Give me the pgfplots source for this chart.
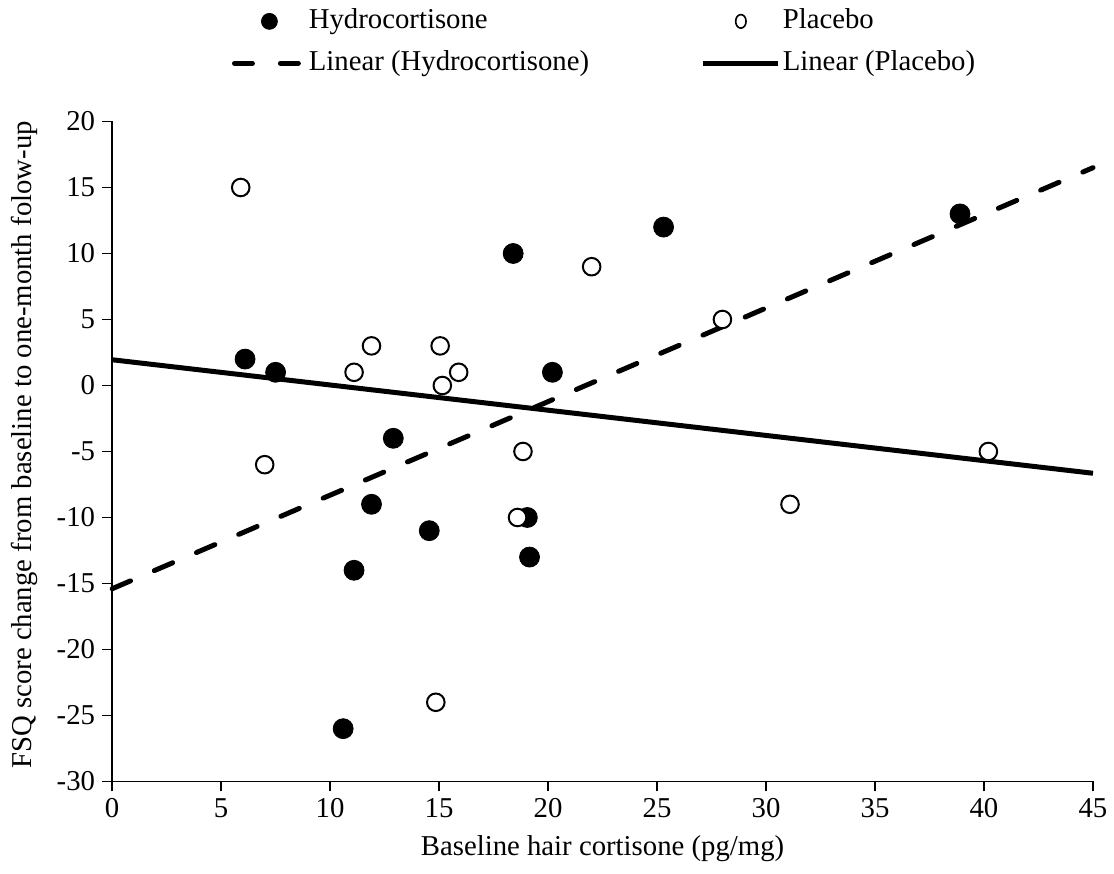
\documentclass[border=0pt]{standalone}
\usepackage{fontspec}
\setmainfont{Liberation Serif}
\usepackage{pgfplots}
\pgfplotsset{compat=1.18}

\begin{document}
\begin{tikzpicture}[font=\fontsize{14.4}{17}\selectfont]
\begin{axis}[
  scale only axis,
  width=491.2pt, height=330.5pt,
  xmin=0, xmax=45, ymin=-30, ymax=20,
  xtick={0,5,...,45}, ytick={-30,-25,...,20},
  axis x line*=bottom, axis y line*=left,
  axis line style={line width=0.75pt, black},
  tick style={line width=0.75pt, black},
  tick align=outside,
  major tick length=5pt,
  /pgf/number format/assume math mode=true,
  xlabel={Baseline hair cortisone (pg/mg)},
  ylabel={FSQ score change from baseline to one-month folow-up},
  xlabel style={at={(axis description cs:0.5,-0.102)}, anchor=center},
  ylabel style={at={(axis description cs:-0.089,0.51)}, anchor=center},
  clip=false,
  legend columns=2,
  legend cell align=left,
  legend style={draw=none, fill=none, at={(0.1218,1.172)}, anchor=north west,
    inner sep=0pt, row sep=8pt,
    nodes={inner xsep=1pt, inner ysep=0pt, text height=10pt, text depth=3pt},
    /tikz/every even column/.append style={column sep=55pt}},
]
% Hydrocortisone
\addplot[only marks, mark=*, mark size=5pt, mark options={fill=black, draw=black},
  legend image code/.code={\fill[black] (18.75pt,0pt) circle (4pt);}]
coordinates {
(6.1,2) (7.5,1) (12.9,-4) (18.4,10) (25.3,12) (20.2,1) (38.9,13)
(11.9,-9) (14.55,-11) (11.1,-14) (10.6,-26) (19.05,-10) (19.15,-13)
};
\addlegendentry{Hydrocortisone}
% Placebo
\addplot[only marks, mark=*, mark size=4.4pt, mark options={fill=white, draw=black, line width=1pt},
  legend image code/.code={\draw[black, line width=0.8pt, fill=white] (18.75pt,0pt) ellipse (2.6pt and 3.4pt);}]
coordinates {
(5.9,15) (11.1,1) (11.9,3) (15.05,3) (15.15,0) (15.9,1) (22.0,9) (28.0,5)
(7.0,-6) (14.85,-24) (18.85,-5) (18.6,-10) (31.1,-9) (40.2,-5)
};
\addlegendentry{Placebo}
% Linear (Hydrocortisone)
\addplot[black, line width=2.5pt, line cap=round, dash pattern=on 10pt off 13pt,
  legend image code/.code={\draw[black, line width=2.5pt, line cap=round, dash pattern=on 9pt off 14pt] (1.25pt,0pt) -- (36.25pt,0pt);}]
coordinates {(0,-15.4) (45,16.5)};
\addlegendentry{Linear (Hydrocortisone)}
% Linear (Placebo)
\addplot[black, line width=2.5pt,
  legend image code/.code={\draw[black, line width=2.5pt] (0pt,0pt) -- (37.5pt,0pt);}]
coordinates {(0,1.95) (45,-6.65)};
\addlegendentry{Linear (Placebo)}
\path (axis description cs:-0.1143,-0.1396) rectangle (axis description cs:1.0197,1.1841);
\end{axis}
\end{tikzpicture}
\end{document}
